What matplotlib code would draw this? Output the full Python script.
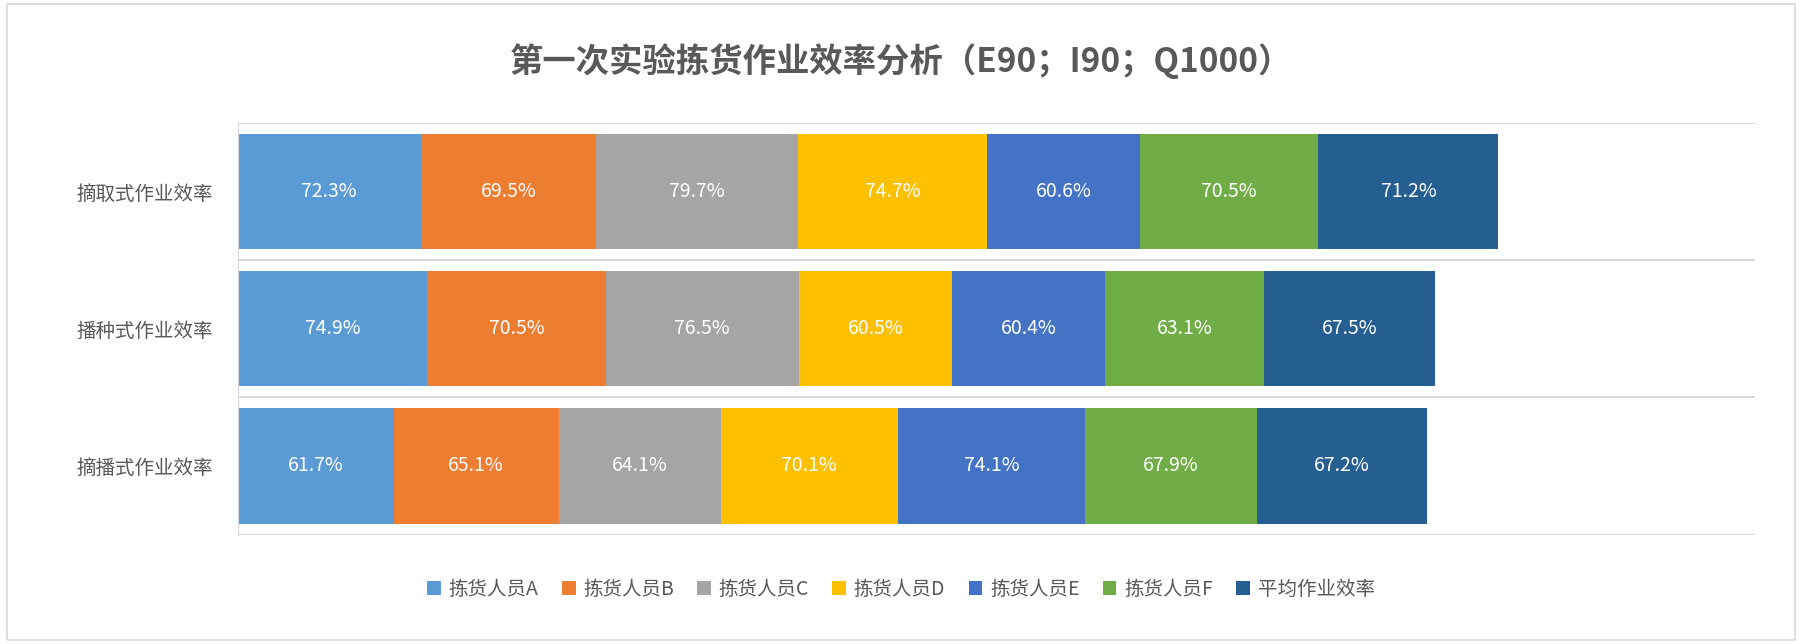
import numpy as np
import matplotlib.pyplot as plt

plt.rcParams['font.family'] = 'Noto Sans CJK SC'

categories = ['摘取式作业效率', '播种式作业效率', '摘播式作业效率']
series_names = ['拣货人员A', '拣货人员B', '拣货人员C', '拣货人员D', '拣货人员E', '拣货人员F', '平均作业效率']
# rows = categories, cols = series (percent)
values = np.array([
    [72.3, 69.5, 79.7, 74.7, 60.6, 70.5, 71.2],
    [74.9, 70.5, 76.5, 60.5, 60.4, 63.1, 67.5],
    [61.7, 65.1, 64.1, 70.1, 74.1, 67.9, 67.2],
])
colors = ['#5B9BD5', '#ED7D31', '#A5A5A5', '#FFC000', '#4472C4', '#70AD47', '#255E91']

fig = plt.figure(figsize=(18.02, 6.44), dpi=100)
ax = fig.add_axes([0.132, 0.17, 0.842, 0.639])

y = np.arange(len(categories))
left = np.zeros(len(categories))
for i, name in enumerate(series_names):
    bars = ax.barh(y, values[:, i], left=left, height=0.84, color=colors[i], label=name)
    for b, v in zip(bars, values[:, i]):
        ax.text(b.get_x() + b.get_width() / 2, b.get_y() + b.get_height() / 2, f'{v:.1f}%',
                ha='center', va='center', color='white', fontsize=14)
    left += values[:, i]

ax.set_xlim(0, 600)
ax.set_ylim(len(categories) - 0.5, -0.5)
ax.set_yticks(y)
ax.set_yticklabels(categories, fontsize=14, color='#595959')
ax.set_yticks(np.arange(-0.5, len(categories)), minor=True)
ax.tick_params(axis='y', which='both', length=0, pad=18)
ax.grid(axis='y', which='minor', color='#D9D9D9', linewidth=1.5)
ax.set_xticks([])
for s in ['top', 'right', 'bottom']:
    ax.spines[s].set_visible(False)
ax.spines['left'].set_color('#D9D9D9')
ax.set_axisbelow(True)

fig.text(0.5, 0.905, '第一次实验拣货作业效率分析（E90；I90；Q1000）', ha='center', va='center',
         fontsize=24, fontweight='bold', color='#595959')
fig.legend(loc='center', bbox_to_anchor=(0.5, 0.085), ncol=7, frameon=False, fontsize=14,
           handlelength=0.7, handleheight=0.7, columnspacing=1.2, handletextpad=0.4,
           labelcolor='#595959')
fig.patches.append(plt.Rectangle((0.004, 0.006), 0.992, 0.988, transform=fig.transFigure,
                                 fill=False, edgecolor='#D9D9D9', linewidth=1.2))
fig.savefig('out.png', dpi=100)
